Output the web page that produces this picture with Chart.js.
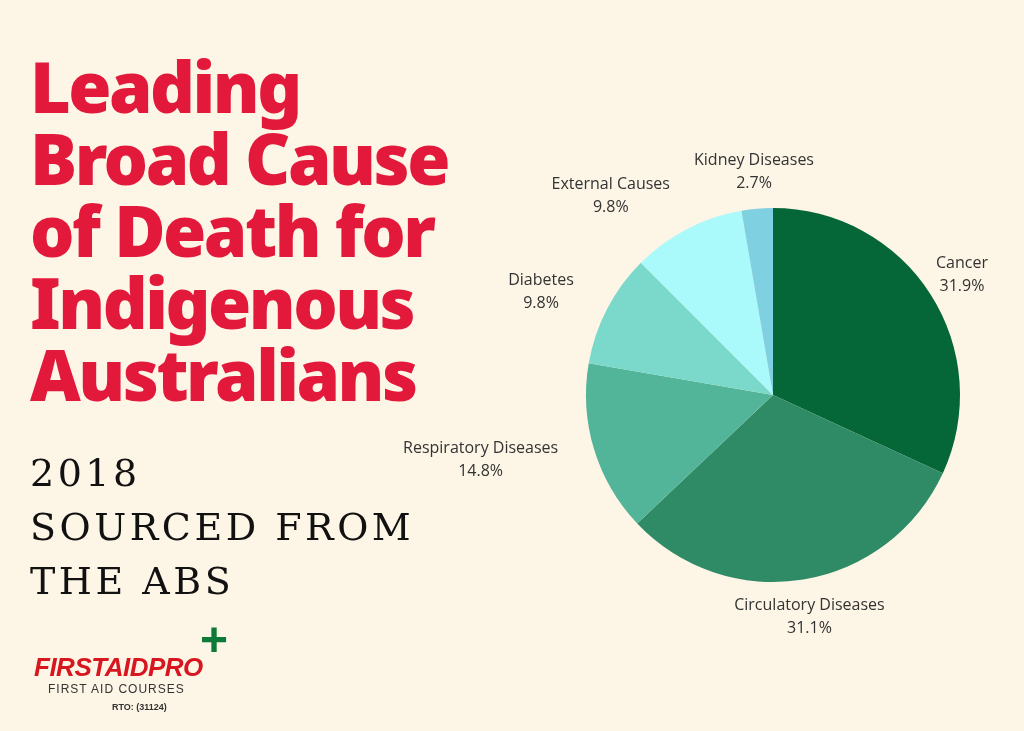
<!DOCTYPE html>
<html>
<head>
<meta charset="utf-8">
<script src="https://cdn.jsdelivr.net/npm/chart.js@4/dist/chart.umd.min.js"></script>
<style>
  body { margin: 0; background: #fdf5e6; }
  #wrap { position: relative; width: 1024px; height: 731px; overflow: hidden; }
  canvas { position: absolute; left: 0; top: 0; }
  .title { position: absolute; left: 30px; top: 50px; color: #e3193b; font-family: "Noto Sans", sans-serif;
    font-weight: 900; font-size: 70px; line-height: 72px; letter-spacing: -2.5px; }
  .sub { position: absolute; left: 30px; top: 446px; color: #111; font-family: "DejaVu Serif", serif;
    font-size: 38px; line-height: 54px; letter-spacing: 3.5px; }
  .logo { position: absolute; left: 34px; top: 610px; font-family: "Liberation Sans", sans-serif; white-space: nowrap; }
  .logo .brand { position: absolute; left: 0; top: 42px; font-weight: 900; font-style: italic; font-size: 26px; color: #d7161f; letter-spacing: -0.5px; }
  .logo .courses { position: absolute; left: 14px; top: 72px; font-size: 12px; letter-spacing: 1px; color: #333; }
  .logo .rto { position: absolute; left: 78px; top: 92px; font-size: 9px; font-weight: bold; color: #333; }
  .logo .cross { position: absolute; left: 166px; top: 2px; font-size: 48px; font-weight: 900; color: #0e7a3a; }
</style>
</head>
<body>
<div id="wrap">
  <canvas id="pie" width="1024" height="731"></canvas>
  <div class="title">Leading<br>Broad Cause<br>of Death for<br>Indigenous<br>Australians</div>
  <div class="sub">2018<br>SOURCED FROM<br>THE ABS</div>
  <div class="logo">
    <div class="cross">+</div>
    <div class="brand">FIRSTAIDPRO</div>
    <div class="courses">FIRST AID COURSES</div>
    <div class="rto">RTO: (31124)</div>
  </div>
</div>
<script>
// data
const causes = ['Cancer', 'Circulatory Diseases', 'Respiratory Diseases', 'Diabetes', 'External Causes', 'Kidney Diseases'];
const shares = [31.9, 31.1, 14.8, 9.8, 9.8, 2.7];
const sliceColors = ['#056637', '#2e8b66', '#52b59a', '#7bd9cb', '#aaf9fb', '#7fd0e0'];

// draws "name / value%" outside each slice, lines centred on each other
const outsideLabels = {
  id: 'outsideLabels',
  afterDraw(chart) {
    const ctx = chart.ctx;
    const arcs = chart.getDatasetMeta(0).data;
    ctx.save();
    ctx.font = '16px "Open Sans", sans-serif';
    ctx.fillStyle = '#333';
    ctx.textBaseline = 'middle';
    ctx.textAlign = 'center';
    arcs.forEach(function(arc, i) {
      const mid = (arc.startAngle + arc.endAngle) / 2;
      const r = arc.outerRadius * 1.2;
      let x = arc.x + Math.cos(mid) * r;
      const y = arc.y + Math.sin(mid) * r;
      const lines = [causes[i], shares[i] + '%'];
      const w = Math.max.apply(null, lines.map(function(t) { return ctx.measureText(t).width; }));
      if (Math.cos(mid) < -0.3) x -= w / 2;
      ctx.fillText(lines[0], x, y - 11);
      ctx.fillText(lines[1], x, y + 12);
    });
    ctx.restore();
  }
};

new Chart(document.getElementById('pie'), {
  type: 'pie',
  data: {
    labels: causes,
    datasets: [{ data: shares, backgroundColor: sliceColors, borderWidth: 0 }]
  },
  options: {
    responsive: false,
    animation: false,
    layout: { padding: { left: 586, right: 64, top: 208, bottom: 149 } },
    plugins: { legend: { display: false }, tooltip: { enabled: false } }
  },
  plugins: [outsideLabels]
});
</script>
</body>
</html>
